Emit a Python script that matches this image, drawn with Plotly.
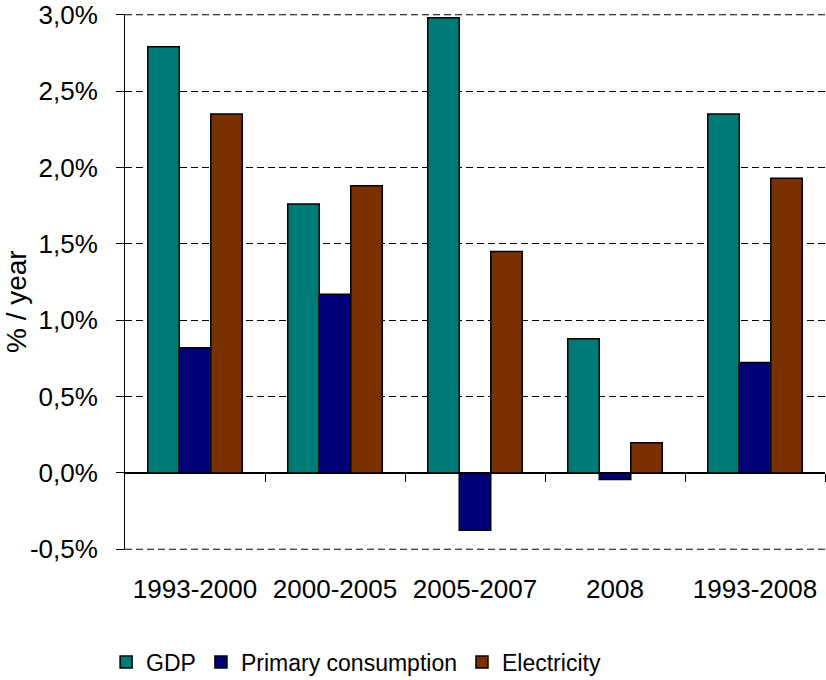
import plotly.graph_objects as go

categories = ["1993-2000", "2000-2005", "2005-2007", "2008", "1993-2008"]
gdp = [0.0279, 0.0176, 0.0298, 0.00878, 0.0235]
primary = [0.0082, 0.0117, -0.00376, -0.00044, 0.00723]
electricity = [0.0235, 0.0188, 0.0145, 0.00198, 0.0193]

series_names = ["GDP", "Primary consumption", "Electricity"]
colors = ["#007A76", "#000078", "#7A3000"]
y_ticks = [-0.005, 0.0, 0.005, 0.01, 0.015, 0.02, 0.025, 0.03]
y_ticktext = [f"{v * 100:.1f}%".replace(".", ",") for v in y_ticks]

FONT = "Liberation Sans, Arial, sans-serif"
GRID_DASH = "7px,4px"

fig = go.Figure()
for name, vals, col in zip(series_names, [gdp, primary, electricity], colors):
    fig.add_trace(go.Bar(
        x=categories, y=vals, name=name,
        marker=dict(color=col, line=dict(color="black", width=1.5)),
    ))

# helper trace so the zero-position axis (with boundary ticks) is drawn
fig.add_trace(go.Scatter(x=[None], y=[None], xaxis="x2", yaxis="y",
                         showlegend=False, hoverinfo="skip"))

ymin, ymax = y_ticks[0], y_ticks[-1]
pad = 0.00005
zero_pos = (0 - (ymin - pad)) / ((ymax + pad) - (ymin - pad))

# edge gridlines (plotly skips gridlines lying on the plot-area border)
for v in (ymin, ymax):
    fig.add_shape(type="line", xref="paper", yref="y", x0=0, x1=1, y0=v, y1=v,
                  line=dict(color="black", width=1, dash=GRID_DASH), layer="below")

fig.update_layout(
    width=826, height=680,
    margin=dict(l=125, r=1, t=14, b=130, autoexpand=False),
    paper_bgcolor="white", plot_bgcolor="white",
    font=dict(family=FONT, size=26, color="black"),
    barmode="group", bargap=0.325, bargroupgap=0,
    xaxis=dict(
        type="category", range=[-0.5, 4.5],
        showline=False, showgrid=False, zeroline=False,
        ticks="", ticklabelstandoff=21,
        tickfont=dict(size=26),
    ),
    xaxis2=dict(
        overlaying="x", anchor="free", position=zero_pos,
        range=[-0.5, 4.5], type="linear",
        tickmode="array", tickvals=[0.5, 1.5, 2.5, 3.5, 4.5],
        ticks="outside", ticklen=8, tickcolor="black", tickwidth=1,
        showticklabels=False, showline=True, linecolor="black", linewidth=1,
        showgrid=False, zeroline=False,
    ),
    yaxis=dict(
        range=[ymin - pad, ymax + pad], tickmode="array",
        tickvals=y_ticks, ticktext=y_ticktext,
        showline=True, linecolor="black", linewidth=1,
        ticks="outside", ticklen=8, tickcolor="black", tickwidth=1,
        showgrid=True, gridcolor="black", gridwidth=1, griddash=GRID_DASH,
        zeroline=True, zerolinecolor="black", zerolinewidth=1,
        ticklabelstandoff=13, ticklabeloverflow="allow",
        tickfont=dict(size=26),
    ),
    legend=dict(
        orientation="h", x=-0.027, xanchor="left", y=-0.209, yanchor="middle",
        font=dict(size=23), itemwidth=30, traceorder="normal",
    ),
    annotations=[dict(
        text="% / year", textangle=-90, xref="paper", yref="paper",
        x=-0.154, y=0.463, xanchor="center", yanchor="middle",
        showarrow=False, font=dict(size=28),
    )],
)

fig.write_html("out.html")
